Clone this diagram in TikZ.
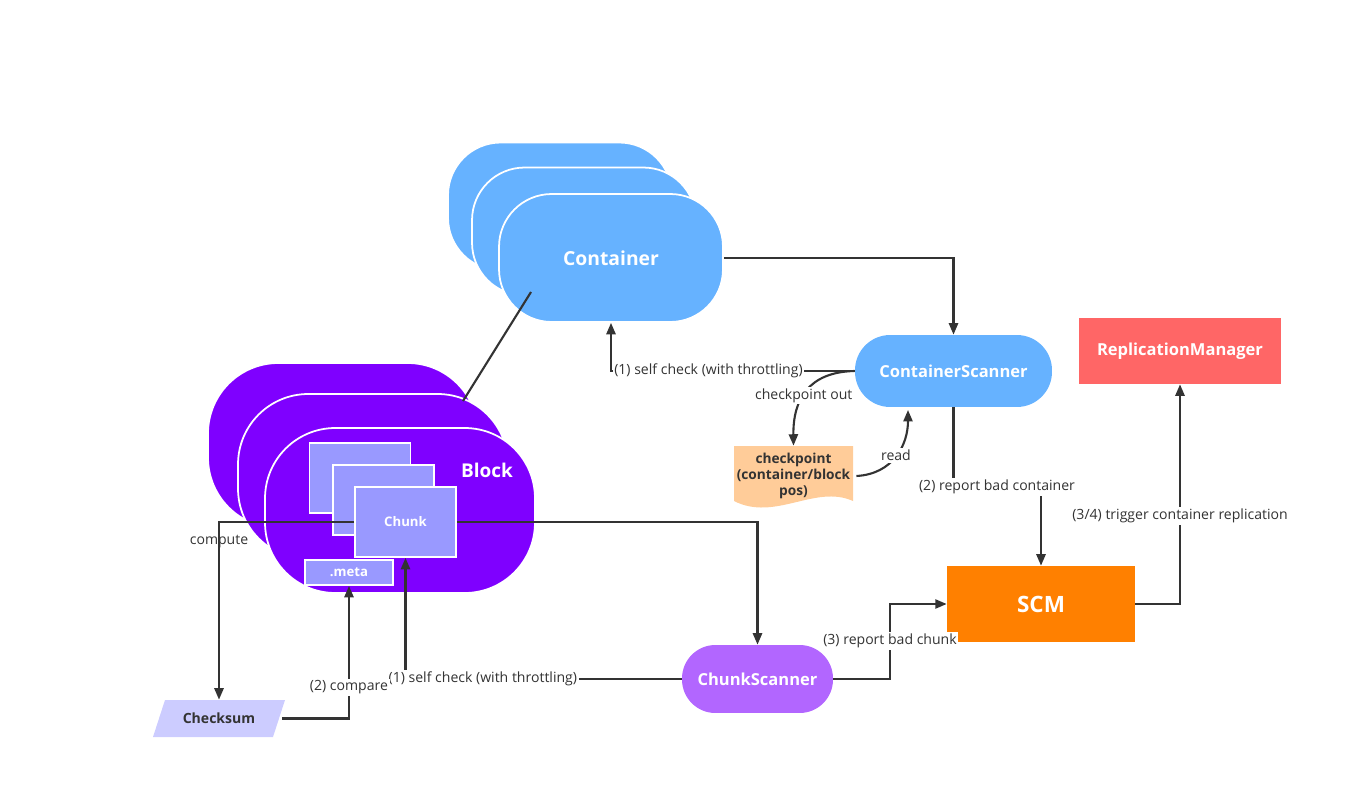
\documentclass[tikz,border=0pt]{standalone}
\usepackage{fontspec}
\setmainfont{Open Sans}
\usetikzlibrary{arrows.meta,positioning}

\definecolor{contblue}{HTML}{66B2FF}
\definecolor{blockpurple}{HTML}{7F00FF}
\definecolor{chunkblue}{HTML}{9999FF}
\definecolor{scanpurple}{HTML}{B266FF}
\definecolor{scmorange}{HTML}{FF8000}
\definecolor{replred}{HTML}{FF6666}
\definecolor{ckptpeach}{HTML}{FFCC99}
\definecolor{sumlilac}{HTML}{CCCCFF}
\definecolor{linegrey}{HTML}{333333}

\def\labelfont{\fontsize{8}{9}\selectfont}
\def\boxfont{\bfseries\fontsize{9.4}{11}\selectfont}

\begin{document}
\begin{tikzpicture}[x=0.02cm, y=-0.02cm,
    container/.style={fill=contblue, draw=white, line width=1pt, rounded corners=30pt,
      minimum width=4.48cm, minimum height=2.56cm, text=white,
      font=\bfseries\fontsize{11}{13}\selectfont},
    block/.style={fill=blockpurple, draw=white, line width=1pt, rounded corners=40pt,
      minimum width=5.4cm, minimum height=3.3cm},
    chunkbox/.style={fill=chunkblue, draw=white, line width=1pt, text=white,
      minimum width=2.02cm, minimum height=1.4cm, font=\bfseries\fontsize{7.5}{9}\selectfont},
    scanner/.style={text=white, font=\boxfont, inner sep=0pt},
    flow/.style={draw=linegrey, line width=1.2pt, -{Triangle[length=6.5pt,width=5.2pt]}},
    lbl/.style={fill=white, text=linegrey, font=\labelfont, inner sep=1pt}]

    \useasboundingbox (0,0) rectangle (1345,800);

    % the stack of containers, the front one last
    \node[container] (cont3) at (560,206.5) {};
    \node[container] (cont2) at (584,231.5) {};
    \node[container] (cont) at (611,258) {Container};

    % the stack of blocks with their chunks
    \node[block] (blk3) at (343,445.5) {};
    \node[block] (blk2) at (373,476.5) {};
    \node[block] (blk) at (400,510.5) {};
    \node[text=white, font=\bfseries\fontsize{10.8}{12}\selectfont] (blklabel) at (487,470) {Block};
    \node[chunkbox] (chk3) at (360,478) {};
    \node[chunkbox] (chk2) at (383.5,500) {};
    \node[chunkbox] (chunk) at (405.5,522) {Chunk};
    \node[chunkbox, minimum width=1.76cm, minimum height=0.5cm] (meta) at (349,572.5) {.meta};

    % scanners and the SCM side
    \node[scanner, fill=contblue, rounded corners=20pt, minimum width=3.94cm,
      minimum height=1.44cm] (cscan) at (953.5,371) {ContainerScanner};
    \node[scanner, fill=scanpurple, rounded corners=19pt, minimum width=3.02cm,
      minimum height=1.36cm] (chscan) at (757.5,679) {ChunkScanner};
    \node[scanner, fill=scmorange, minimum width=3.76cm, minimum height=1.52cm,
      font=\bfseries\fontsize{12.8}{15}\selectfont] (scm) at (1041,604) {SCM};
    \node[scanner, fill=replred, minimum width=4.04cm, minimum height=1.32cm] (repl) at (1180,351) {ReplicationManager};

    % checkpoint file and checksum
    \fill[ckptpeach] (734,446) -- (853,446) -- (853,501)
      .. controls (815,484) and (775,522) .. (734,501) -- cycle;
    \node[text=linegrey, align=center, font=\bfseries\fontsize{7.8}{9}\selectfont,
      minimum width=2.38cm, minimum height=1.2cm] (ckpt) at (793.5,476) {checkpoint\\(container/block\\pos)};
    \fill[sumlilac] (165,700) -- (285,700) -- (273,737) -- (153,737) -- cycle;
    \node[text=linegrey, font=\bfseries\fontsize{8}{10}\selectfont,
      minimum width=2.52cm, minimum height=0.74cm] (sum) at (219,718.5) {Checksum};

    \coordinate (contlink) at (531,292);
    \coordinate (blklink) at (463,401);
    \coordinate (readend) at (908,410);
    \coordinate (badc) at (997,487);
    \coordinate (badk) at (890,641);

    % connectors
    \draw[draw=linegrey, line width=1.2pt] (contlink) -- (blklink);
    \draw[flow] (cont.east) -| (cscan.north);
    \draw[flow] (cscan.west) -| node[lbl, pos=0.3] {(1) self check (with throttling)} (cont.south);
    \draw[flow] (cscan.west) .. controls (808,372) and (793,400) .. node[lbl, pos=0.55] {checkpoint out} (ckpt.north);
    \draw[flow] (ckpt.east) .. controls (893,474) and (908,445) .. node[lbl] {read} (readend);
    \draw[flow] (cscan.south) |- (badc) node[lbl] {(2) report bad container} -| (scm.north);
    \draw[flow] (scm.east) -| node[lbl, pos=0.7] {(3/4) trigger container replication} (repl.south);
    \draw[flow] (chscan.east) -| (badk) node[lbl] {(3) report bad chunk} |- (scm.west);
    \draw[flow] (chscan.west) -| node[lbl, pos=0.36] {(1) self check (with throttling)} (chunk.south);
    \draw[flow] (chunk.east) -| (chscan.north);
    \draw[flow] (chunk.west) -| node[lbl, fill=none, pos=0.556] {compute} (sum.north);
    \draw[flow] (sum.east) -| node[lbl, pos=0.617] {(2) compare} (meta.south);

\end{tikzpicture}
\end{document}
